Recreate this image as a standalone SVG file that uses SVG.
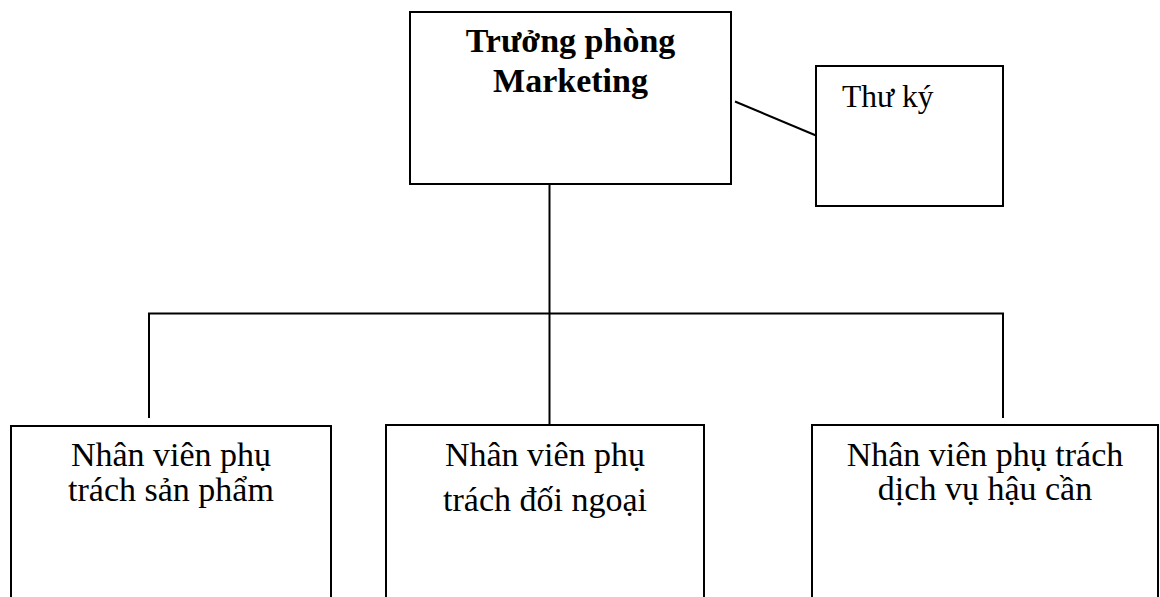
<svg xmlns="http://www.w3.org/2000/svg" width="1160" height="597" viewBox="0 0 1160 597">
<style>
.box{fill:#fff;stroke:#000;stroke-width:2}
.ln{fill:none;stroke:#000;stroke-width:2}
.t{font-family:"Liberation Serif","Times New Roman",serif;fill:#000}
.b{font-size:34px;font-weight:bold;text-anchor:middle}
.n{font-size:34px;text-anchor:middle}
</style>
<rect width="1160" height="597" fill="#fff"/>
<g id="connectors">
<line class="ln" x1="735" y1="101.5" x2="816" y2="135.5"/>
<line class="ln" x1="549.5" y1="184" x2="549.5" y2="425"/>
<polyline class="ln" points="149,418 149,313.5 1003,313.5 1003,418"/>
</g>
<g id="node-truong-phong">
<rect class="box" x="410" y="12" width="321" height="172"/>
<text class="t b" x="570.5" y="52">Trưởng phòng</text>
<text class="t b" x="570.5" y="92">Marketing</text>
</g>
<g id="node-thu-ky">
<rect class="box" x="816" y="66" width="187" height="140"/>
<text class="t" x="842" y="107" font-size="31.5">Thư ký</text>
</g>
<g id="node-san-pham">
<rect class="box" x="11" y="426" width="320" height="190"/>
<text class="t n" x="171" y="466">Nhân viên phụ</text>
<text class="t n" x="171" y="501">trách sản phẩm</text>
</g>
<g id="node-doi-ngoai">
<rect class="box" x="386" y="425" width="318" height="190"/>
<text class="t n" x="545" y="466">Nhân viên phụ</text>
<text class="t n" x="545" y="511">trách đối ngoại</text>
</g>
<g id="node-hau-can">
<rect class="box" x="812" y="425" width="346" height="190"/>
<text class="t n" x="985" y="466">Nhân viên phụ trách</text>
<text class="t n" x="985" y="500">dịch vụ hậu cần</text>
</g>
</svg>
